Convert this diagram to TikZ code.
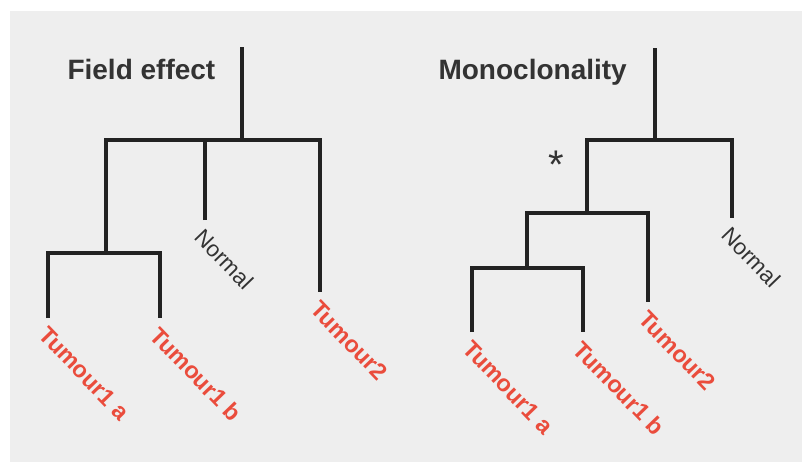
\documentclass[tikz,border=0pt]{standalone}
\usepackage{fontspec}
\setmainfont{Liberation Sans}
\definecolor{tumour}{RGB}{234,76,60}
\definecolor{treegray}{RGB}{34,34,34}
\definecolor{labelgray}{RGB}{51,51,51}

\begin{document}
\begin{tikzpicture}[x=1pt, y=-1pt,
	edge/.style={line width=4pt, draw=treegray, line join=miter},
	title/.style={anchor=base west, text=labelgray, font=\fontsize{28}{32}\selectfont\bfseries},
	tip label/.style={rotate=-46, anchor=north west, inner sep=0pt, text=tumour, font=\fontsize{23.5}{26}\selectfont\bfseries},
	normal label/.style={rotate=-46, anchor=north west, inner sep=0pt, text=labelgray, font=\fontsize{22.5}{26}\selectfont}]
	\useasboundingbox (0,0) rectangle (803,463);
	\fill[gray!13] (10,11) rectangle (802,462);
	% field effect tree
	\node[title] (fe title) at (64,79) {Field effect};
	\coordinate (fe root) at (242,47);
	\coordinate (fe n0) at (242,140);
	\coordinate (fe n1) at (106,253);
	\coordinate (fe t1a) at (48,318);
	\coordinate (fe t1b) at (160,318);
	\coordinate (fe normal) at (205,220);
	\coordinate (fe t2) at (320,292);
	\draw[edge] (fe root) -- (fe n0);
	\draw[edge] (fe n1) |- (fe n0) -| (fe t2);
	\draw[edge] (fe normal) -- (fe normal |- fe n0);
	\draw[edge] (fe t1a) |- (fe n1) -| (fe t1b);
	\node[tip label] (fe t1a label) at ([shift={(1,7)}]fe t1a) {Tumour1 a};
	\node[tip label] (fe t1b label) at ([shift={(1,7)}]fe t1b) {Tumour1 b};
	\node[tip label] (fe t2 label) at ([shift={(1,7)}]fe t2) {Tumour2};
	\node[normal label] (fe normal label) at ([shift={(0,7)}]fe normal) {Normal};
	% monoclonality tree
	\node[title] (mc title) at (435,79) {Monoclonality};
	\coordinate (mc root) at (655,48);
	\coordinate (mc n0) at (655,140);
	\coordinate (mc n1) at (587,213);
	\coordinate (mc n2) at (527,268);
	\coordinate (mc t1a) at (472,332);
	\coordinate (mc t1b) at (583,332);
	\coordinate (mc t2) at (648,302);
	\coordinate (mc normal) at (732,218);
	\draw[edge] (mc root) -- (mc n0);
	\draw[edge] (mc n1) |- (mc n0) -| (mc normal);
	\draw[edge] (mc n2) |- (mc n1) -| (mc t2);
	\draw[edge] (mc t1a) |- (mc n2) -| (mc t1b);
	\node[tip label] (mc t1a label) at ([shift={(1,7)}]mc t1a) {Tumour1 a};
	\node[tip label] (mc t1b label) at ([shift={(1,7)}]mc t1b) {Tumour1 b};
	\node[tip label] (mc t2 label) at ([shift={(1,7)}]mc t2) {Tumour2};
	\node[normal label] (mc normal label) at ([shift={(0,7)}]mc normal) {Normal};
	\node[anchor=north, inner sep=0pt, text=labelgray, font=\fontsize{40}{44}\selectfont] (mc star) at (556,151) {*};
\end{tikzpicture}
\end{document}
